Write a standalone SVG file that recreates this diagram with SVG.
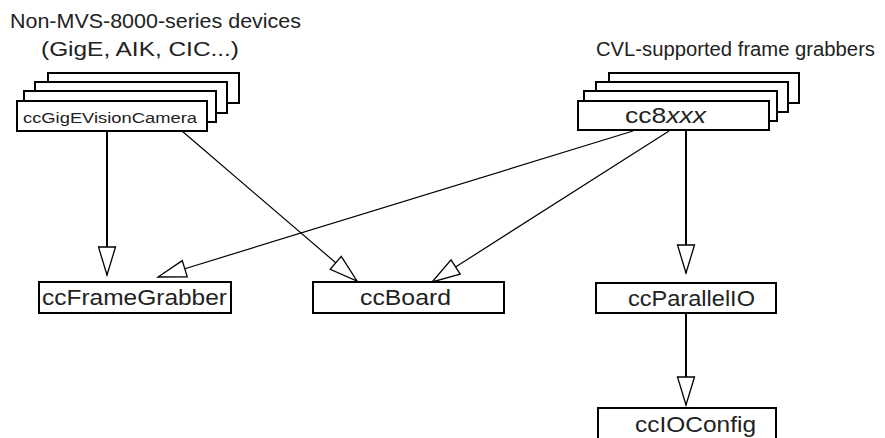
<svg xmlns="http://www.w3.org/2000/svg" width="885" height="438" viewBox="0 0 885 438">
  <style>
    .box { fill: #fff; stroke: #000; stroke-width: 2; }
    .lbl { font-family: "Liberation Sans", Arial, sans-serif; fill: #222; }
    .big { font-size: 21.5px; }
    .title { font-size: 20px; }
    .small { font-size: 15.5px; }
    .thick { stroke: #000; stroke-width: 2; fill: none; }
    .thin { stroke: #000; stroke-width: 1.2; fill: none; }
  </style>
  <defs>
    <marker id="hollow" viewBox="-2 -2 32 21" refX="28" refY="8.5" markerWidth="32" markerHeight="21" markerUnits="userSpaceOnUse" orient="auto">
      <path d="M0,0 L28,8.5 L0,17 Z" fill="#fff" stroke="#000" stroke-width="1.3" stroke-linejoin="miter"/>
    </marker>
  </defs>

  <rect width="885" height="438" fill="#fff"/>

  <!-- group headings -->
  <text class="lbl title" x="10" y="28" textLength="291" lengthAdjust="spacingAndGlyphs">Non-MVS-8000-series devices</text>
  <text class="lbl title" x="41" y="56" textLength="198" lengthAdjust="spacingAndGlyphs">(GigE, AIK, CIC...)</text>
  <text class="lbl title" x="596" y="56" textLength="279" lengthAdjust="spacingAndGlyphs">CVL-supported frame grabbers</text>

  <!-- connectors -->
  <g id="connectors">
    <line class="thick" x1="107" y1="131" x2="107" y2="275" marker-end="url(#hollow)"/>
    <line class="thin" x1="182" y1="131" x2="357" y2="281" marker-end="url(#hollow)"/>
    <line class="thin" x1="633" y1="131" x2="158" y2="277" marker-end="url(#hollow)"/>
    <line class="thin" x1="669" y1="131" x2="432" y2="282" marker-end="url(#hollow)"/>
    <line class="thick" x1="686" y1="130" x2="686" y2="273" marker-end="url(#hollow)"/>
    <line class="thick" x1="686" y1="313" x2="686" y2="405" marker-end="url(#hollow)"/>
  </g>

  <!-- stacked camera classes -->
  <g id="ccGigEVisionCamera">
    <rect class="box" x="48" y="73" width="191" height="30"/>
    <rect class="box" x="35" y="82" width="192" height="31"/>
    <rect class="box" x="24" y="91" width="192" height="31"/>
    <rect class="box" x="17" y="101" width="190" height="30"/>
    <text class="lbl small" x="23" y="123" textLength="174" lengthAdjust="spacingAndGlyphs">ccGigEVisionCamera</text>
  </g>

  <!-- stacked frame grabber classes -->
  <g id="cc8xxx">
    <rect class="box" x="609" y="73" width="190" height="30"/>
    <rect class="box" x="596" y="82" width="192" height="30"/>
    <rect class="box" x="584" y="91" width="193" height="30"/>
    <rect class="box" x="578" y="101" width="191" height="29"/>
    <text class="lbl big" x="625" y="123" textLength="81" lengthAdjust="spacingAndGlyphs">cc8<tspan font-style="italic">xxx</tspan></text>
  </g>

  <g id="ccFrameGrabber">
    <rect class="box" x="39" y="282" width="192" height="31"/>
    <text class="lbl big" x="42" y="305" textLength="185" lengthAdjust="spacingAndGlyphs">ccFrameGrabber</text>
  </g>

  <g id="ccBoard">
    <rect class="box" x="313" y="282" width="191" height="31"/>
    <text class="lbl big" x="360" y="305" textLength="91" lengthAdjust="spacingAndGlyphs">ccBoard</text>
  </g>

  <g id="ccParallelIO">
    <rect class="box" x="596" y="283" width="180" height="30"/>
    <text class="lbl big" x="628" y="306" textLength="127" lengthAdjust="spacingAndGlyphs">ccParallelIO</text>
  </g>

  <g id="ccIOConfig">
    <rect class="box" x="598" y="408" width="178" height="40"/>
    <text class="lbl big" x="635" y="432" textLength="121" lengthAdjust="spacingAndGlyphs">ccIOConfig</text>
  </g>
</svg>
